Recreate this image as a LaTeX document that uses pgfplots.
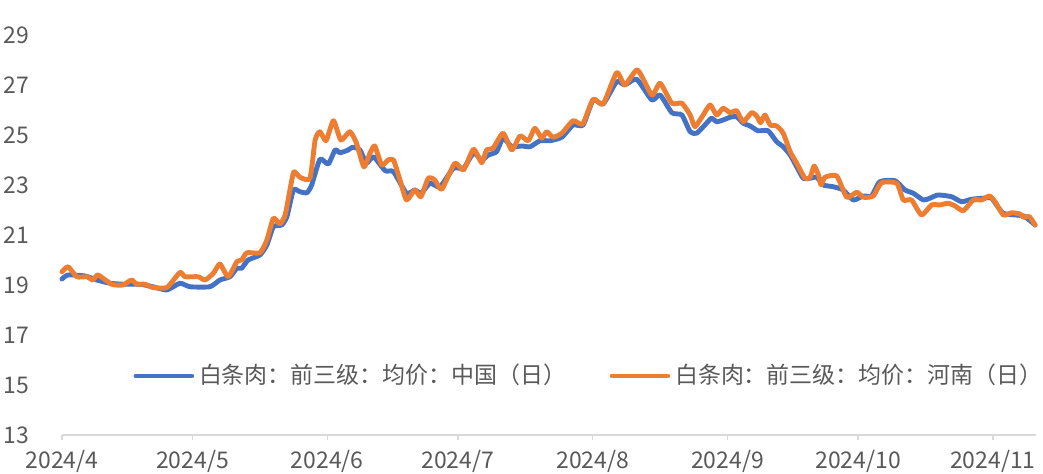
\documentclass[border=0pt]{standalone}
\usepackage{fontspec}
\setmainfont{Noto Sans CJK SC}
\usepackage{pgfplots}
\pgfplotsset{compat=1.18}
\definecolor{sblue}{HTML}{4472C4}
\definecolor{sorange}{HTML}{ED7D31}
\definecolor{txtgray}{HTML}{595959}
\definecolor{axgray}{HTML}{D9D9D9}
\begin{document}
\begin{tikzpicture}
\useasboundingbox (-0.8917cm,-0.561cm) rectangle (14.109cm,6.256cm);
\begin{axis}[
  at={(0,0)}, anchor=south west,
  scale only axis,
  width=14.014cm, height=5.753cm,
  xmin=0, xmax=224,
  ymin=13, ymax=29,
  ytick={13,15,...,29},
  xtick={0,30,61,91,122,153,183,214},
  xticklabels={2024/4,2024/5,2024/6,2024/7,2024/8,2024/9,2024/10,2024/11},
  /pgf/number format/assume math mode=true,
  axis lines*=left,
  x axis line style={draw=axgray, line width=0.6pt},
  y axis line style={draw=none},
  ytick style={draw=none},
  xtick style={draw=axgray, line width=0.6pt},
  tick align=outside,
  major tick length=2.2pt,
  ticklabel style={font=\fontsize{9.4}{11}\selectfont, text=txtgray},
  yticklabel style={xshift=-0.27cm},
  xticklabel style={yshift=-0.02cm},
  clip=false,
  legend style={at={(0.073,0.1475)}, anchor=west, draw=none, fill=none,
    legend columns=2, font=\fontsize{9.4}{11}\selectfont, text=txtgray,
    inner sep=0pt, /tikz/every even column/.append style={column sep=0.55cm}},
  legend cell align=left,
  legend image code/.code={\draw[#1] (0cm,0cm) -- (0.8cm,0cm);},
  every axis plot/.append style={line width=2pt, line join=round, line cap=round, smooth, tension=0.35},
]
\addplot[sblue] coordinates {
(0,19.24)(1.4,19.4)(5.3,19.36)(8.0,19.2)(11.0,19.07)(14.1,19.03)(17.9,19.03)(20.9,18.93)(24.1,18.8)(27.1,19.07)(29.4,18.93)(34.0,18.93)(36.3,19.2)(38.6,19.33)(40.2,19.67)(41.3,19.67)(42.8,20.0)(45.5,20.2)(47.1,20.6)(48.6,21.33)(50.5,21.4)(51.7,21.73)(53.2,22.8)(54.7,22.73)(56.3,22.69)(57.4,23.0)(59.3,24.03)(61.2,23.84)(62.8,24.4)(63.9,24.29)(65.8,24.4)(66.8,24.51)(68.5,24.4)(70.0,23.87)(71.6,24.13)(74.3,23.57)(76.2,23.53)(79.2,22.67)(81.1,22.8)(82.6,22.67)(84.6,23.07)(86.9,22.93)(90.0,23.67)(92.3,23.67)(94.6,24.27)(96.5,24.0)(98.0,24.2)(99.9,24.33)(101.4,24.87)(103.4,24.53)(105.7,24.56)(107.6,24.53)(109.9,24.77)(112.2,24.77)(114.9,24.91)(117.5,25.4)(119.8,25.4)(122.1,26.4)(124.4,26.24)(127.5,27.13)(129.4,27.0)(132.1,27.23)(135.6,26.4)(137.5,26.6)(140.2,25.89)(142.5,25.8)(144.4,25.13)(145.9,25.07)(147.8,25.4)(149.3,25.67)(150.5,25.53)(152.0,25.6)(153.6,25.71)(155.1,25.73)(156.6,25.47)(158.2,25.36)(160.0,25.17)(162.3,25.17)(164.3,24.73)(165.8,24.53)(167.4,24.2)(168.9,23.73)(170.4,23.27)(172.0,23.27)(173.5,23.31)(175.0,23.0)(177.3,22.93)(179.6,22.8)(181.9,22.4)(184.2,22.56)(186.1,22.56)(188.0,23.13)(191.5,23.17)(193.8,22.8)(195.7,22.67)(198.0,22.4)(199.5,22.47)(201.4,22.6)(204.5,22.53)(206.8,22.33)(209.1,22.43)(211.8,22.47)(213.7,22.47)(216.4,21.87)(221.0,21.76)(223.7,21.4)
};
\addlegendentry{白条肉：前三级：均价：中国（日）}
\addplot[sorange] coordinates {
(0,19.53)(1.4,19.73)(3.4,19.33)(5.7,19.33)(7.1,19.2)(8.3,19.4)(11.4,19.03)(14.0,19.0)(16.0,19.2)(17.2,19.03)(19.1,19.03)(20.9,18.9)(24.1,18.9)(27.1,19.5)(28.3,19.33)(31.3,19.33)(32.9,19.2)(34.8,19.47)(36.3,19.84)(38.2,19.33)(40.2,19.93)(41.3,20.0)(42.5,20.29)(45.5,20.29)(47.1,20.8)(48.6,21.67)(50.1,21.44)(51.3,21.8)(52.4,22.8)(53.3,23.53)(54.7,23.31)(57.0,23.27)(58.2,24.8)(59.3,25.13)(60.7,24.77)(62.4,25.57)(64.1,24.8)(66.2,25.13)(67.7,24.67)(69.4,23.73)(70.8,24.27)(71.9,24.56)(73.5,23.8)(75.0,24.0)(76.2,24.0)(77.7,23.2)(79.2,22.4)(81.1,22.8)(82.5,22.53)(84.2,23.27)(85.7,23.2)(87.3,22.83)(90.3,23.87)(92.3,23.6)(94.6,24.43)(96.5,23.89)(97.6,24.4)(99.1,24.47)(101.4,25.07)(103.4,24.4)(105.3,24.96)(107.2,24.77)(108.7,25.27)(110.3,24.87)(111.4,25.13)(112.9,24.91)(114.9,25.07)(117.5,25.57)(119.7,25.44)(122.1,26.43)(124.4,26.24)(127.5,27.49)(129.4,27.0)(132.3,27.6)(135.6,26.6)(137.5,27.07)(140.2,26.27)(142.5,26.27)(144.4,25.8)(145.5,25.33)(147.4,25.8)(149.0,26.2)(150.5,25.8)(152.0,26.07)(153.6,25.89)(155.1,25.97)(156.6,25.53)(158.5,25.89)(159.7,25.76)(160.6,25.49)(161.6,25.8)(162.8,25.4)(164.3,25.36)(165.8,25.07)(167.4,24.33)(168.9,23.87)(170.8,23.27)(172.0,23.31)(172.9,23.76)(173.9,23.4)(174.5,23.0)(175.4,23.31)(178.1,23.36)(180.4,22.51)(182.7,22.71)(184.2,22.51)(186.5,22.56)(188.4,23.09)(191.9,23.07)(193.4,22.4)(195.3,22.4)(197.6,21.8)(199.9,22.2)(201.8,22.2)(203.7,22.27)(205.3,22.16)(207.2,21.97)(209.5,22.4)(211.4,22.4)(213.2,22.56)(214.5,22.33)(216.4,21.8)(218.3,21.89)(220.2,21.84)(221.0,21.71)(222.4,21.73)(223.7,21.4)
};
\addlegendentry{白条肉：前三级：均价：河南（日）}
\end{axis}
\end{tikzpicture}
\end{document}
